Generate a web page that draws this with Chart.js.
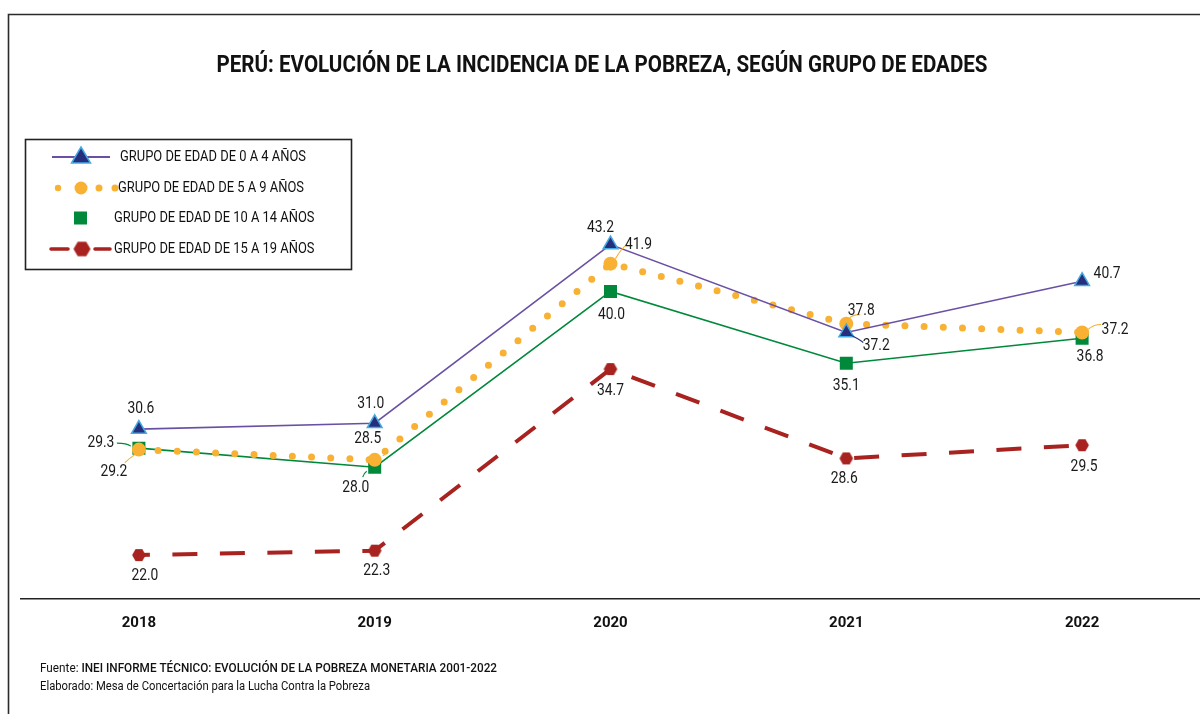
<!DOCTYPE html>
<html><head><meta charset="utf-8">
<script src="https://cdn.jsdelivr.net/npm/chart.js@4/dist/chart.umd.min.js"></script>
<style>html,body{margin:0;padding:0;background:#fff;}canvas{display:block;}</style>
</head><body>
<canvas id="c" width="1200" height="714"></canvas>
<script>
// ---- data ----
const years = ['2018', '2019', '2020', '2021', '2022'];
const g0_4 = [30.6, 31.0, 43.2, 37.2, 40.7];
const g5_9 = [29.2, 28.5, 41.9, 37.8, 37.2];
const g10_14 = [29.3, 28.0, 40.0, 35.1, 36.8];
const g15_19 = [22.0, 22.3, 34.7, 28.6, 29.5];
const seriesNames = ['GRUPO DE EDAD DE 0 A 4 AÑOS', 'GRUPO DE EDAD DE 5 A 9 AÑOS', 'GRUPO DE EDAD DE 10 A 14 AÑOS', 'GRUPO DE EDAD DE 15 A 19 AÑOS'];
const titleText = 'PERÚ: EVOLUCIÓN DE LA INCIDENCIA DE LA POBREZA, SEGÚN GRUPO DE EDADES';
const sourceLabel = 'Fuente: ';
const sourceText = 'INEI INFORME TÉCNICO: EVOLUCIÓN DE LA POBREZA MONETARIA 2001-2022';
const authorText = 'Elaborado: Mesa de Concertación para la Lucha Contra la Pobreza';

// ---- styles ----
const C_PURPLE = '#6a50a4', C_NAVY = '#272f7c', C_LBLUE = '#45aae2';
const C_ORANGE = '#f8b133', C_GREEN = '#00893b', C_RED = '#a8221f';
const FONT = 'Roboto, "Liberation Sans", sans-serif';

// label offsets (dx, dy from point) and optional leader lines, per series
const labelOffsets = [
  [[2,-20],[-4,-19],[-10,-17],[30,13],[25,-7]],
  [[-25,22],[-7,-21],[28,-19],[15,-13],[33,-3]],
  [[-38,-5],[-19,21],[1,23],[0,23],[8,19]],
  [[6,21],[2,20],[0,22],[-2,20],[2,22]]
];
const leaders = [
  [null,null,null,[[3,2],[12,6],[17,10]],null],
  [[[-4,5],[-10,9],[-14,13]],[[8,-4],[12,-6],[10,-10]],[[5,-5],[10,-14],[16,-19]],[[3,-5],[5,-9],[14,-9]],[[6,-3],[11,-8],[19,-8]]],
  [[[-8,-2],[-12,-5],[-22,-5]],[[-8,4],[-11,6],[-12,10]],null,null,null],
  [null,null,null,null,null]
];

function makeHex(r) {
  const cv = document.createElement('canvas');
  const w = Math.ceil(r * 2) + 2, h = Math.ceil(r * Math.sqrt(3)) + 2;
  cv.width = w; cv.height = h;
  const x = cv.getContext('2d');
  x.fillStyle = C_RED;
  x.beginPath();
  for (let i = 0; i < 6; i++) {
    const a = Math.PI / 3 * i;
    const px = w / 2 + r * Math.cos(a), py = h / 2 + r * Math.sin(a);
    i ? x.lineTo(px, py) : x.moveTo(px, py);
  }
  x.closePath(); x.fill();
  return cv;
}
const hexPoint = makeHex(6.8);
const hexLegend = makeHex(8.5);

function txt(ctx, s, x, y, font, color, align, sx) {
  ctx.save();
  ctx.font = font; ctx.fillStyle = color; ctx.textBaseline = 'middle'; ctx.textAlign = align || 'left';
  ctx.translate(x, y); ctx.scale(sx || 1, 1);
  ctx.fillText(s, 0, 0);
  ctx.restore();
}
function fitScale(ctx, s, font, target) {
  ctx.save(); ctx.font = font; const w = ctx.measureText(s).width; ctx.restore();
  return target / w;
}

const decor = {
  id: 'decor',
  beforeDraw(chart) {
    const ctx = chart.ctx;
    ctx.save();
    ctx.fillStyle = '#fff'; ctx.fillRect(0, 0, chart.width, chart.height);
    ctx.strokeStyle = '#2b2b2b'; ctx.lineWidth = 1.6;
    ctx.beginPath(); ctx.moveTo(8.5, 714); ctx.lineTo(8.5, 14.5); ctx.lineTo(1200, 14.5); ctx.stroke();
    ctx.restore();
  },
  afterDraw(chart) {
    const ctx = chart.ctx;
    // title
    const tf = 'bold 24px ' + FONT;
    txt(ctx, titleText, 602, 66, tf, '#111', 'center', fitScale(ctx, titleText, tf, 771));
    // legend
    ctx.save();
    ctx.fillStyle = '#fff'; ctx.fillRect(25, 139, 326, 130);
    ctx.strokeStyle = '#222'; ctx.lineWidth = 1.6; ctx.strokeRect(25.5, 139.5, 326, 130);
    ctx.restore();
    const lf = '14.5px ' + FONT;
    const lsx = fitScale(ctx, seriesNames[0], lf, 186);
    const ly = [157, 188, 218, 249];
    const lx = [120, 118, 114, 114];
    ctx.save();
    // item 1
    ctx.strokeStyle = C_PURPLE; ctx.lineWidth = 1.8;
    ctx.beginPath(); ctx.moveTo(52, ly[0]); ctx.lineTo(110, ly[0]); ctx.stroke();
    ctx.fillStyle = C_NAVY; ctx.strokeStyle = C_LBLUE; ctx.lineWidth = 1.5;
    ctx.beginPath();
    ctx.moveTo(81, ly[0] - 10); ctx.lineTo(90.5, ly[0] + 6); ctx.lineTo(71.5, ly[0] + 6); ctx.closePath();
    ctx.fill(); ctx.stroke();
    // item 2
    ctx.fillStyle = C_ORANGE;
    [[58, 3.2], [81, 6.5], [99, 3.5], [115, 3.5]].forEach(([x, r]) => { ctx.beginPath(); ctx.arc(x, ly[1], r, 0, Math.PI * 2); ctx.fill(); });
    // item 3
    ctx.fillStyle = C_GREEN; ctx.fillRect(74, ly[2] - 6.5, 13, 13);
    // item 4
    ctx.strokeStyle = C_RED; ctx.lineWidth = 3.5; ctx.lineCap = 'round';
    ctx.beginPath(); ctx.moveTo(51, ly[3]); ctx.lineTo(68, ly[3]); ctx.moveTo(95, ly[3]); ctx.lineTo(110, ly[3]); ctx.stroke();
    ctx.drawImage(hexLegend, 82 - hexLegend.width / 2, ly[3] - hexLegend.height / 2);
    ctx.restore();
    seriesNames.forEach((n, i) => txt(ctx, n, lx[i], ly[i], lf, '#111', 'left', lsx));
    // data labels
    const df = '16.5px ' + FONT;
    const dsx = fitScale(ctx, '30.6', df, 27);
    const colors = [C_NAVY, C_ORANGE, C_GREEN, C_RED];
    chart.data.datasets.forEach((ds, di) => {
      const meta = chart.getDatasetMeta(di);
      meta.data.forEach((pt, i) => {
        const ld = leaders[di][i];
        if (ld) {
          ctx.save(); ctx.strokeStyle = colors[di]; ctx.lineWidth = 1.1;
          ctx.beginPath(); ctx.moveTo(pt.x + ld[0][0], pt.y + ld[0][1]);
          ctx.quadraticCurveTo(pt.x + ld[1][0], pt.y + ld[1][1], pt.x + ld[2][0], pt.y + ld[2][1]);
          ctx.stroke(); ctx.restore();
        }
        const o = labelOffsets[di][i];
        txt(ctx, ds.data[i].toFixed(1), pt.x + o[0], pt.y + o[1], df, '#1a1a1a', 'center', dsx);
      });
    });
    // footer
    const ff = '13px ' + FONT, fb = '500 13px ' + FONT;
    ctx.save(); ctx.font = ff; const w1 = ctx.measureText(sourceLabel).width; ctx.font = fb; const w2 = ctx.measureText(sourceText).width; ctx.restore();
    const fsx = 457 / (w1 + w2);
    txt(ctx, sourceLabel, 40, 669, ff, '#111', 'left', fsx);
    txt(ctx, sourceText, 40 + w1 * fsx, 669, fb, '#111', 'left', fsx);
    const fsx2 = fitScale(ctx, authorText, ff, 330);
    txt(ctx, authorText, 40, 687, ff, '#111', 'left', fsx2);
  }
};

new Chart(document.getElementById('c'), {
  type: 'line',
  data: {
    labels: years,
    datasets: [
      { label: seriesNames[0], data: g0_4, borderColor: C_PURPLE, borderWidth: 1.6, pointStyle: 'triangle', pointRadius: 8.5, pointBackgroundColor: C_NAVY, pointBorderColor: C_LBLUE, pointBorderWidth: 1.5, tension: 0 },
      { label: seriesNames[1], data: g5_9, borderColor: C_ORANGE, borderWidth: 7, borderDash: [0, 19.2], borderCapStyle: 'round', pointStyle: 'circle', pointRadius: 7, pointBackgroundColor: C_ORANGE, pointBorderWidth: 0, tension: 0 },
      { label: seriesNames[2], data: g10_14, borderColor: C_GREEN, borderWidth: 1.6, pointStyle: 'rect', pointRadius: 9.2, pointBackgroundColor: C_GREEN, pointBorderWidth: 0, tension: 0 },
      { label: seriesNames[3], data: g15_19, borderColor: C_RED, borderWidth: 4, borderDash: [25, 22.5], borderDashOffset: 14, pointStyle: hexPoint, pointRadius: 7, pointBackgroundColor: C_RED, tension: 0 }
    ]
  },
  options: {
    responsive: false,
    animation: false,
    devicePixelRatio: 1,
    layout: { autoPadding: false, padding: { top: 145, left: 21, right: -2, bottom: 0 } },
    plugins: { legend: { display: false }, title: { display: false }, tooltip: { enabled: false } },
    scales: {
      x: {
        offset: true,
        grid: { display: false, drawTicks: false },
        border: { display: true, color: '#222', width: 1.6 },
        ticks: { color: '#111', font: { family: FONT, size: 15, weight: 'bold' }, padding: 15 },
        afterFit: (s) => { s.height = 115; s.paddingLeft = 0; s.paddingRight = 0; }
      },
      y: { display: false, min: 19, max: 50 }
    }
  },
  plugins: [decor]
});
</script>
</body></html>
